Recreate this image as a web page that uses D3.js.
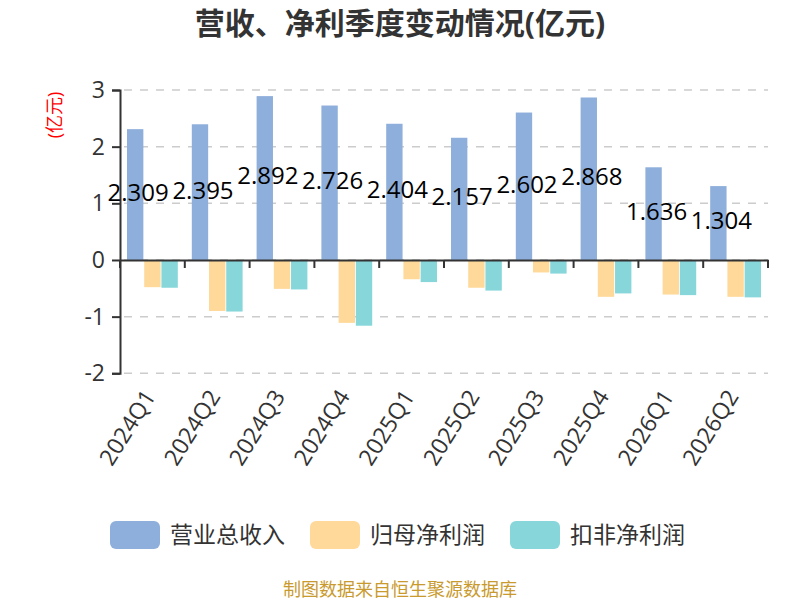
<!DOCTYPE html>
<html>
<head>
<meta charset="utf-8">
<script src="https://cdn.jsdelivr.net/npm/d3@7"></script>
<style>
  body { margin: 0; background: #fff; }
  svg { font-family: "Open Sans", "Noto Sans CJK SC", sans-serif; }
</style>
</head>
<body>
<svg id="chart" width="800" height="600"></svg>
<script>
// Data
const quarters = ['2024Q1', '2024Q2', '2024Q3', '2024Q4', '2025Q1', '2025Q2', '2025Q3', '2025Q4', '2026Q1', '2026Q2'];
const revenue = [2.309, 2.395, 2.892, 2.726, 2.404, 2.157, 2.602, 2.868, 1.636, 1.304];
const netProfit = [-0.48, -0.90, -0.51, -1.11, -0.34, -0.49, -0.22, -0.65, -0.61, -0.65];
const netProfitDeducted = [-0.49, -0.91, -0.52, -1.16, -0.39, -0.54, -0.24, -0.59, -0.62, -0.66];
const seriesNames = ['营业总收入', '归母净利润', '扣非净利润'];
const yTicks = [-2, -1, 0, 1, 2, 3];

const colors = ['#8eaedb', '#ffd99a', '#87d6da'];
const seriesValues = [revenue, netProfit, netProfitDeducted];

const svg = d3.select('#chart');
const margin = { top: 90, left: 120, right: 32 };
const width = 800 - margin.left - margin.right;   // 648
const plotHeight = 373.3 - 90;

const x = d3.scaleBand()
    .domain(quarters)
    .range([margin.left, margin.left + width]);

const xSub = d3.scaleBand()
    .domain(seriesNames)
    .range([7, x.bandwidth() - 7])
    .paddingInner(0.05);

const y = d3.scaleLinear()
    .domain([-2, 3])
    .range([margin.top + plotHeight, margin.top]);

// Title
svg.append('text')
    .attr('x', 400)
    .attr('y', 34)
    .attr('text-anchor', 'middle')
    .attr('font-size', 30)
    .attr('font-weight', 'bold')
    .attr('fill', '#333')
    .text('营收、净利季度变动情况(亿元)');

// Unit label
svg.append('text')
    .attr('transform', 'translate(61,115) rotate(-90)')
    .attr('text-anchor', 'middle')
    .attr('font-size', 18)
    .attr('fill', 'red')
    .text('(亿元)');

// Grid
svg.append('g')
    .selectAll('line')
    .data(yTicks)
    .enter()
    .append('line')
    .attr('x1', margin.left)
    .attr('x2', margin.left + width)
    .attr('y1', d => y(d))
    .attr('y2', d => y(d))
    .attr('stroke', '#ccc')
    .attr('stroke-width', 1.5)
    .attr('stroke-dasharray', '8,8')
    .attr('stroke-dashoffset', -4);

// Bars
const rows = quarters.map((q, i) => ({ q, vals: seriesValues.map((s, j) => ({ name: seriesNames[j], v: s[i], c: colors[j] })) }));

const groups = svg.selectAll('.grp')
    .data(rows)
    .enter()
    .append('g')
    .attr('class', 'grp')
    .attr('transform', d => `translate(${x(d.q)},0)`);

groups.selectAll('rect')
    .data(d => d.vals)
    .enter()
    .append('rect')
    .attr('x', d => xSub(d.name))
    .attr('width', xSub.bandwidth())
    .attr('y', d => Math.min(y(d.v), y(0)))
    .attr('height', d => Math.abs(y(d.v) - y(0)))
    .attr('fill', d => d.c);

// Axes
const yAxis = svg.append('g')
    .attr('transform', `translate(${margin.left},0)`)
    .call(d3.axisLeft(y).tickValues(yTicks).tickSize(8).tickFormat(d => String(d)));
yAxis.selectAll('text')
    .attr('font-size', 23)
    .attr('fill', '#333')
    .attr('font-family', '"Open Sans", sans-serif')
    .attr('x', -15);

const xAxis = svg.append('g')
    .attr('transform', `translate(0,${y(0)})`)
    .call(d3.axisBottom(x).tickSize(0).tickFormat(''));

xAxis.selectAll('.tickmark')
    .data(d3.range(quarters.length + 1))
    .enter()
    .append('line')
    .attr('class', 'tickmark')
    .attr('x1', i => margin.left + i * x.bandwidth())
    .attr('x2', i => margin.left + i * x.bandwidth())
    .attr('y1', 0)
    .attr('y2', 8)
    .attr('stroke', '#333')
    .attr('stroke-width', 2);

svg.selectAll('.domain').attr('stroke', '#333').attr('stroke-width', 2);
svg.selectAll('.tick line').attr('stroke', '#333').attr('stroke-width', 2);

// X labels
svg.selectAll('.xlab')
    .data(quarters)
    .enter()
    .append('text')
    .attr('class', 'xlab')
    .attr('transform', d => `translate(${x(d) + x.bandwidth() / 2 + 4},${y(-2) + 23}) rotate(-58)`)
    .attr('text-anchor', 'end')
    .attr('font-size', 23)
    .attr('fill', '#333')
    .text(d => d);

// Value labels
svg.selectAll('.vlab')
    .data(quarters)
    .enter()
    .append('text')
    .attr('class', 'vlab')
    .attr('x', (d, i) => x(d) + xSub(seriesNames[0]) + xSub.bandwidth() / 2 + 3)
    .attr('y', (d, i) => (y(revenue[i]) + y(0)) / 2 - 2)
    .attr('dy', '0.35em')
    .attr('text-anchor', 'middle')
    .attr('font-size', 24)
    .attr('fill', '#000')
    .text((d, i) => revenue[i]);

// Legend
const legend = svg.selectAll('.leg')
    .data(seriesNames)
    .enter()
    .append('g')
    .attr('class', 'leg')
    .attr('transform', (d, i) => `translate(${110 + i * 200},521)`);

legend.append('rect')
    .attr('width', 50)
    .attr('height', 28)
    .attr('rx', 6)
    .attr('fill', (d, i) => colors[i]);

legend.append('text')
    .attr('x', 60)
    .attr('y', 14)
    .attr('dy', '0.36em')
    .attr('font-size', 23)
    .attr('fill', '#333')
    .text(d => d);

// Footer
svg.append('text')
    .attr('x', 400)
    .attr('y', 596)
    .attr('text-anchor', 'middle')
    .attr('font-size', 18)
    .attr('fill', '#c99a2e')
    .text('制图数据来自恒生聚源数据库');
</script>
</body>
</html>
